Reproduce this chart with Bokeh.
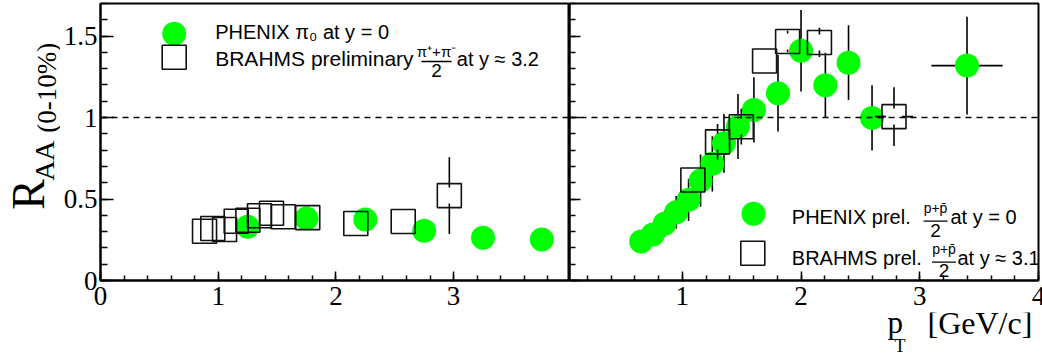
import numpy as np
from bokeh.plotting import figure
from bokeh.models import Range1d, Span, Label, SingleIntervalTicker, CustomJSTickFormatter
from bokeh.layouts import row, column
from bokeh.embed import file_html
from bokeh.resources import INLINE

# ---------------- data ----------------
# left panel: pions
pion_phenix_pt = [1.25, 1.75, 2.25, 2.75, 3.25, 3.75]
pion_phenix_raa = [0.330, 0.380, 0.375, 0.305, 0.262, 0.252]
pion_phenix_err = [0.03, 0.03, 0.03, 0.03, 0.03, 0.03]

pion_brahms_pt = [0.884, 0.954, 1.054, 1.153, 1.252, 1.351, 1.453, 1.552, 1.761, 2.169, 2.572, 2.964]
pion_brahms_raa = [0.302, 0.319, 0.313, 0.364, 0.370, 0.397, 0.413, 0.391, 0.386, 0.350, 0.362, 0.521]
pion_brahms_err = [0.03, 0.03, 0.03, 0.03, 0.03, 0.03, 0.03, 0.03, 0.03, 0.03, 0.03, 0.235]

# right panel: protons
prot_phenix_pt = [0.654, 0.752, 0.851, 0.949, 1.053, 1.154, 1.253, 1.351, 1.469, 1.603,
                  1.806, 2.000, 2.205, 2.400, 2.598, 3.398]
prot_phenix_raa = [0.239, 0.282, 0.348, 0.419, 0.495, 0.613, 0.716, 0.842, 0.945, 1.047,
                   1.149, 1.410, 1.198, 1.337, 0.998, 1.319]
prot_phenix_err = [0.05, 0.06, 0.08, 0.10, 0.13, 0.16, 0.17, 0.18, 0.20, 0.20,
                   0.235, 0.25, 0.20, 0.23, 0.20, 0.30]
prot_phenix_xerr = [0, 0, 0, 0, 0, 0, 0, 0, 0, 0, 0, 0, 0, 0, 0, 0.30]

prot_brahms_pt = [1.089, 1.297, 1.497, 1.693, 1.887, 2.155, 2.783]
prot_brahms_raa = [0.617, 0.851, 0.944, 1.347, 1.467, 1.461, 1.006]
prot_brahms_err = [0.04, 0.11, 0.11, 0.04, 0.066, 0.09, 0.18]
prot_brahms_xerr = [0, 0, 0, 0, 0, 0, 0.16]

y_ticks_major = 0.5
x_ticks_major = 1

# ---------------- layout constants (page pixels) ----------------
FW, FH = 469, 277
TOP, BOTTOM_BORDER = 3, 32
TITLE_W = 60
LEFT_X0, RIGHT_X0, FRAME_BOTTOM = 97, 566, 280
Y_RANGE = (0.0, 1.70)
XR = {"L": (0.0, 3.985), "R": (0.05, 4.0)}
GREEN = "#00ff00"
SERIF = "Liberation Serif"
SANS = "Liberation Sans"
MSIZE = 24
GAP_PX = 8


def page_data(panel, px, py):
    xr = XR[panel]
    x0 = LEFT_X0 if panel == "L" else RIGHT_X0
    x = xr[0] + (px - x0) / FW * (xr[1] - xr[0])
    y = Y_RANGE[0] + (FRAME_BOTTOM - py) / FH * (Y_RANGE[1] - Y_RANGE[0])
    return x, y


def make_fig(panel, left_border, right_border):
    p = figure(frame_width=FW, frame_height=FH, output_backend="svg", toolbar_location=None,
               x_range=Range1d(*XR[panel]), y_range=Range1d(*Y_RANGE),
               min_border_left=left_border, min_border_right=right_border,
               min_border_top=TOP, min_border_bottom=BOTTOM_BORDER)
    p.xgrid.visible = False
    p.ygrid.visible = False
    p.outline_line_color = "black"
    p.outline_line_width = 2
    p.background_fill_color = "white"
    p.border_fill_color = "white"
    xa = p.xaxis[0]
    xa.ticker = SingleIntervalTicker(interval=x_ticks_major, num_minor_ticks=5)
    xa.axis_line_width = 2
    xa.major_tick_in, xa.major_tick_out = 9, 0
    xa.minor_tick_in, xa.minor_tick_out = 5, 0
    xa.major_tick_line_width = 1.5
    xa.minor_tick_line_width = 1.5
    xa.major_label_text_font = SERIF
    xa.major_label_text_font_size = "27px"
    xa.major_label_text_color = "black"
    xa.major_label_standoff = 6
    ya = p.yaxis[0]
    ya.ticker = SingleIntervalTicker(interval=y_ticks_major, num_minor_ticks=5)
    ya.axis_line_width = 2
    ya.major_tick_out = 0
    ya.minor_tick_out = 0
    ya.major_tick_line_width = 1.5
    ya.minor_tick_line_width = 1.5
    ya.major_label_text_font = SERIF
    ya.major_label_text_font_size = "27px"
    ya.major_label_text_color = "black"
    p.add_layout(Span(location=1, dimension="width", line_color="black",
                      line_dash="6 5", line_width=1.5))
    return p


def add_errors(p, panel, xs, ys, yerr, xerr=None, gap=False):
    xr = XR[panel]
    gy = GAP_PX * (Y_RANGE[1] - Y_RANGE[0]) / FH if gap else 0.0
    gx = GAP_PX * (xr[1] - xr[0]) / FW if gap else 0.0
    x0, y0, x1, y1 = [], [], [], []
    for i, (x, y, e) in enumerate(zip(xs, ys, yerr)):
        if e > gy:
            x0 += [x, x]; x1 += [x, x]
            y0 += [y + gy, y - gy]; y1 += [y + e, y - e]
        if xerr is not None and xerr[i] > gx:
            ex = xerr[i]
            x0 += [x + gx, x - gx]; x1 += [x + ex, x - ex]
            y0 += [y, y]; y1 += [y, y]
    if x0:
        p.segment(x0=x0, y0=y0, x1=x1, y1=y1, line_color="black", line_width=1.6)


def circles(p, xs, ys):
    p.scatter(x=xs, y=ys, marker="circle", size=MSIZE, fill_color=GREEN, line_color=None)


def squares(p, xs, ys):
    p.scatter(x=xs, y=ys, marker="square", size=MSIZE, fill_color=None,
              line_color="#111111", line_width=1.6)


def text_at(p, x, y, text, size, font=SANS, align="left", baseline="middle", angle=0.0):
    p.add_layout(Label(x=x, y=y, text=text, text_font=font, text_font_size=size,
                       text_align=align, text_baseline=baseline, angle=angle,
                       text_color="black"))


def label(p, panel, px, py, text, size, **kw):
    x, y = page_data(panel, px, py)
    text_at(p, x, y, text, size, **kw)


def frac(p, panel, cx, num_y, bar_y, den_y, half_w, num, num_size="14px"):
    label(p, panel, cx, num_y, num, num_size, align="center")
    label(p, panel, cx, den_y, "2", "19px", align="center")
    xa, ya = page_data(panel, cx - half_w, bar_y)
    xb, yb = page_data(panel, cx + half_w, bar_y)
    p.segment(x0=[xa], y0=[ya], x1=[xb], y1=[yb], line_color="black", line_width=1.3)


def text_canvas(width, height):
    # a plain canvas whose data units are pixels, y measured upward from its bottom
    p = figure(width=width, height=height, output_backend="svg", toolbar_location=None,
               x_range=Range1d(0, width), y_range=Range1d(0, height),
               x_axis_type=None, y_axis_type=None, min_border=0)
    p.outline_line_color = None
    p.background_fill_color = "white"
    p.border_fill_color = "white"
    return p


def canvas_text(c, top, height, px, py, text, size, **kw):
    text_at(c, px, top + height - py, text, size, **kw)


# ---------------- left panel ----------------
pl = make_fig("L", LEFT_X0 - TITLE_W, 0)
pl.yaxis[0].major_tick_in = 13
pl.yaxis[0].minor_tick_in = 7
pl.yaxis[0].major_label_standoff = 3

add_errors(pl, "L", pion_phenix_pt, pion_phenix_raa, pion_phenix_err)
circles(pl, pion_phenix_pt, pion_phenix_raa)
add_errors(pl, "L", pion_brahms_pt, pion_brahms_raa, pion_brahms_err, gap=True)
squares(pl, pion_brahms_pt, pion_brahms_raa)

# legend (left)
lx, ly = page_data("L", 170.7, 33.3)
circles(pl, [lx], [ly])
lx, ly = page_data("L", 170.7, 56.7)
squares(pl, [lx], [ly])
label(pl, "L", 211.7, 31.7, "PHENIX \u03c0\u2080 at y = 0", "20px")
label(pl, "L", 211.7, 58.3, "BRAHMS preliminary", "21px")
frac(pl, "L", 433.0, 50.5, 61.0, 69.7, 15.0, "\u03c0\u207a+\u03c0\u207b", num_size="15px")
label(pl, "L", 453.3, 58.3, "at y \u2248 3.2", "20px")

# ---------------- right panel ----------------
pr = make_fig("R", 0, 7)
pr.yaxis[0].major_tick_in = 11
pr.yaxis[0].minor_tick_in = 6
pr.yaxis[0].formatter = CustomJSTickFormatter(code="return ''")
pr.yaxis[0].major_label_standoff = 0

add_errors(pr, "R", prot_phenix_pt, prot_phenix_raa, prot_phenix_err, prot_phenix_xerr)
circles(pr, prot_phenix_pt, prot_phenix_raa)
add_errors(pr, "R", prot_brahms_pt, prot_brahms_raa, prot_brahms_err, prot_brahms_xerr, gap=True)
squares(pr, prot_brahms_pt, prot_brahms_raa)

# legend (right)
lx, ly = page_data("R", 750.0, 213.3)
circles(pr, [lx], [ly])
lx, ly = page_data("R", 749.3, 252.7)
squares(pr, [lx], [ly])
label(pr, "R", 788.3, 216.3, "PHENIX prel.", "20px")
frac(pr, "R", 932.0, 207.5, 220.7, 229.5, 12.0, "p+p\u0304")
label(pr, "R", 947.0, 216.3, "at y = 0", "20px")
label(pr, "R", 788.3, 257.3, "BRAHMS prel.", "20px")
frac(pr, "R", 940.5, 248.5, 261.7, 270.0, 12.0, "p+p\u0304")
label(pr, "R", 954.0, 257.3, "at y \u2248 3.1", "20px")

# ---------------- axis titles (own text canvases; centred texts) ----------------
fig_h = TOP + FH + BOTTOM_BORDER
ytitle = text_canvas(TITLE_W, fig_h)
canvas_text(ytitle, 0, fig_h, 27.5, 215, "R", "46px", font=SERIF, align="center", angle=np.pi / 2)
canvas_text(ytitle, 0, fig_h, 43.5, 177, "AA", "28px", font=SERIF, align="center", angle=np.pi / 2)
canvas_text(ytitle, 0, fig_h, 46.5, 95, "(0-10%)", "27px", font=SERIF, align="center", angle=np.pi / 2)

xt_h = 355 - fig_h
xtitle = text_canvas(1042, xt_h)
canvas_text(xtitle, fig_h, xt_h, 887, 322, "p", "31px", font=SERIF)
canvas_text(xtitle, fig_h, xt_h, 894, 345, "T", "18px", font=SERIF)
canvas_text(xtitle, fig_h, xt_h, 927, 322, "[GeV/c]", "32px", font=SERIF)

layout = column(row(ytitle, pl, pr), xtitle)
open("out.html", "w").write(file_html(layout, INLINE))
